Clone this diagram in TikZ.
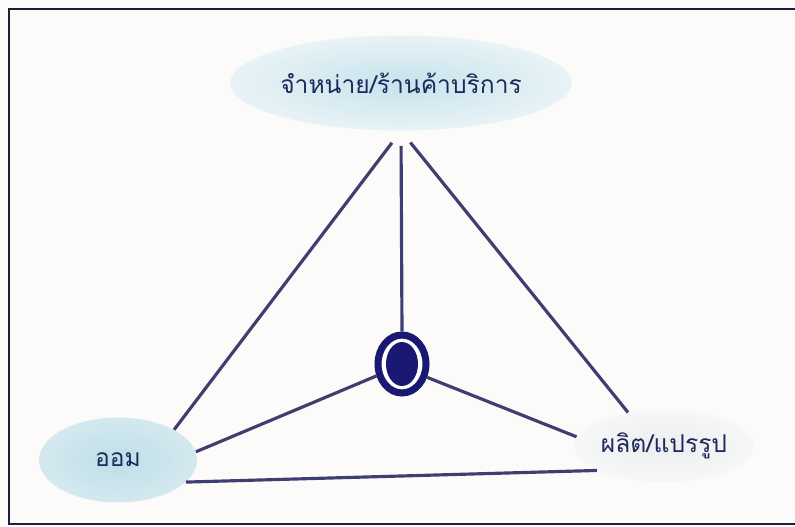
\documentclass[tikz,border=0pt]{standalone}
\usepackage{fontspec}
\newfontfamily\thaifont[Script=Thai]{Loma}
\usetikzlibrary{shapes.geometric, positioning}
\usepackage{xcolor}
\definecolor{paper}{RGB}{252,251,249}
\definecolor{framecol}{RGB}{30,30,60}
\definecolor{inkblue}{RGB}{30,40,90}
\definecolor{linkgray}{RGB}{62,62,112}
\definecolor{hubnavy}{RGB}{25,25,115}

\begin{document}
\begin{tikzpicture}[x=0.02cm, y=-0.02cm,
    bubble/.style={ellipse, inner sep=0pt, text=inkblue, font=\thaifont\fontsize{14}{16}\selectfont},
    link/.style={draw=linkgray, line width=1.8pt}]
    \useasboundingbox (0,0) rectangle (795,527);
    \fill[paper] (0,0) rectangle (795,527);
    \draw[framecol, line width=1.2pt] (810,9) -- (9,9) -- (9,524) -- (810,524);

    % Nodes
    \node (sell) [bubble, shade, inner color={rgb,255:red,198;green,227;blue,236}, outer color={rgb,255:red,232;green,243;blue,246}, minimum width=5.66cm, minimum height=1.9cm] at (401,83) {จำหน่าย/ร้านค้าบริการ};
    \node (save) [bubble, shade, inner color={rgb,255:red,190;green,222;blue,232}, outer color={rgb,255:red,212;green,233;blue,239}, minimum width=3.16cm, minimum height=1.7cm] at (118,460) {ออม};
    \node (make) [bubble, shade, inner color={rgb,255:red,236;green,238;blue,239}, outer color={rgb,255:red,246;green,247;blue,247}, minimum width=3.6cm, minimum height=1.45cm] at (664,446) {ผลิต/แปรรูป};
    \node (hub) [ellipse, draw=hubnavy, line width=4pt, fill=white, inner sep=0pt, minimum width=0.96cm, minimum height=1.16cm] at (402,364) {};
    \node (core) [ellipse, fill=hubnavy, inner sep=0pt, minimum width=0.64cm, minimum height=0.88cm] at (hub) {};

    % Lines
    \draw[link, shorten <=0.3cm] (sell.south) -- (save.north east);
    \draw[link, shorten <=0.3cm] (sell.south) -- (hub.north);
    \draw[link, shorten <=0.3cm] (sell.south) -- (make.137);
    \draw[link] (hub.205) -- (save.6);
    \draw[link] (hub.332) -- (make.174);
    \draw[link] (save.342) -- (make.200);
\end{tikzpicture}
\end{document}
